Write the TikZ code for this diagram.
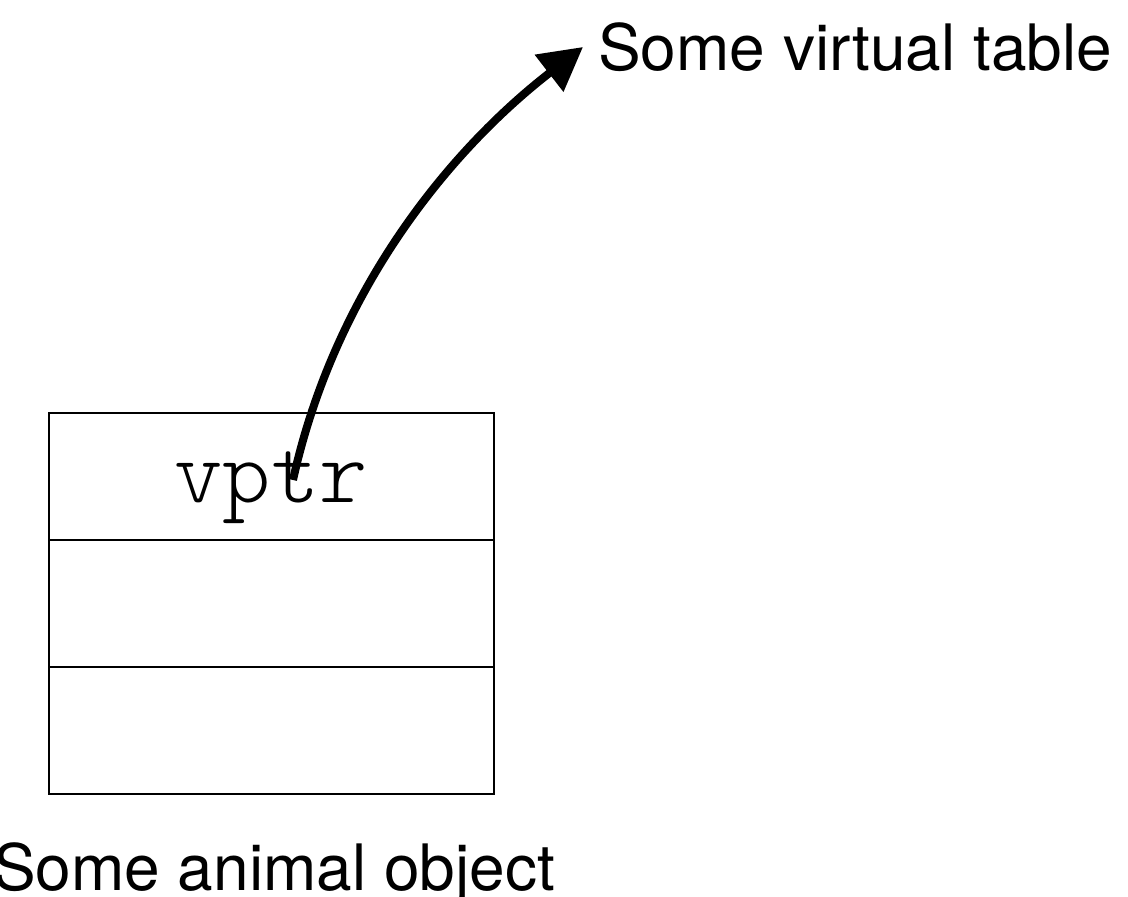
\documentclass[tikz,border=0pt]{standalone}
\usepackage{fontspec}
\setmainfont{TeX Gyre Heros}
\setmonofont{Latin Modern Mono Light}
\usetikzlibrary{arrows.meta}
\begin{document}
\begin{tikzpicture}[x=1pt,y=-1pt,
  cell/.style={draw,line width=2pt,minimum width=445pt,minimum height=127pt,inner sep=0pt,outer sep=0pt},
  label/.style={inner sep=0pt,font=\fontsize{64}{70}\selectfont},
  ptr/.style={line width=8pt,-{Triangle[length=43pt,width=45pt]}}]
\useasboundingbox (0,0) rectangle (1128,897);
\node[cell,anchor=north west] (r1) at (49,413) {};
\node[cell,anchor=north] (r2) at (r1.south) {};
\node[cell,anchor=north] (r3) at (r2.south) {};
\node[inner sep=0pt,anchor=base,font=\ttfamily\fontsize{92}{96}\selectfont] (vptr) at (271,502) {vptr};
\coordinate (start) at (293,480);
\node[label,anchor=base west] (vt) at (598,70) {Some virtual table};
\node[label,anchor=base] (obj) at (274,890) {Some animal object};
\coordinate (tip) at (583,47);
\draw[ptr] (start) .. controls (335,290) and (450,150) .. (tip);
\end{tikzpicture}
\end{document}
